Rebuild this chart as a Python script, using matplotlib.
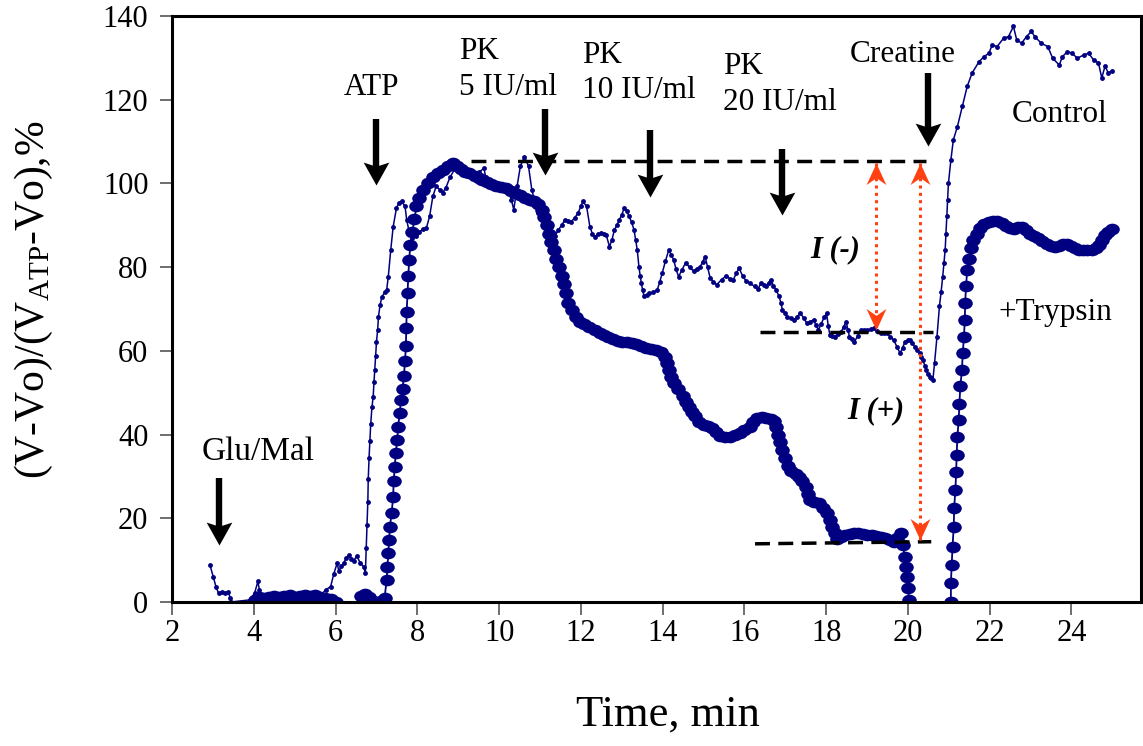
import matplotlib
matplotlib.use("Agg")
import matplotlib.pyplot as plt
from matplotlib.path import Path
from matplotlib.transforms import Affine2D

plt.rcParams['font.family'] = ['Liberation Serif', 'DejaVu Serif']
plt.rcParams['mathtext.fontset'] = 'custom'
plt.rcParams['mathtext.rm'] = 'Liberation Serif'
plt.rcParams['mathtext.it'] = 'Liberation Serif:italic'
plt.rcParams['mathtext.bf'] = 'Liberation Serif:bold'

# ---------------- data ----------------
control_t = [2.93, 3.01, 3.08, 3.14, 3.22, 3.30, 3.38, 3.42, 3.44,
             3.90, 4.02, 4.10, 4.14, 4.20, 4.40, 4.60, 4.80, 5.00, 5.20, 5.40, 5.60, 5.76, 5.88, 5.96,
             6.04, 6.08, 6.14, 6.20, 6.26, 6.32, 6.38, 6.44, 6.52, 6.60, 6.69, 6.73,
             6.75, 6.77, 6.79, 6.80, 6.82, 6.84, 6.86, 6.89, 6.92, 6.94, 6.96, 6.98, 7.00, 7.03, 7.05,
             7.09, 7.13, 7.20, 7.25, 7.29, 7.35, 7.41, 7.49, 7.55, 7.62, 7.70, 7.74, 7.80, 7.88, 7.96,
             8.05, 8.14, 8.22, 8.30, 8.38, 8.46, 8.55, 8.62, 8.70, 8.80, 8.95, 9.10, 9.27, 9.40, 9.52,
             9.63, 9.67, 9.80, 9.95, 10.10, 10.22, 10.30, 10.36, 10.44, 10.52, 10.62, 10.72, 10.80,
             10.88, 10.96, 11.05, 11.15, 11.22, 11.29, 11.37, 11.45, 11.53, 11.61, 11.69, 11.77, 11.85,
             11.93, 12.00, 12.05, 12.14, 12.22, 12.28, 12.34, 12.42, 12.50, 12.56, 12.62, 12.70, 12.76,
             12.82, 12.88, 12.94, 13.00, 13.06, 13.12, 13.18, 13.24, 13.30, 13.34, 13.38, 13.42, 13.45,
             13.48, 13.51, 13.55, 13.61, 13.67, 13.77, 13.87, 13.93, 13.99, 14.07, 14.15, 14.21, 14.27,
             14.33, 14.39, 14.47, 14.56, 14.66, 14.76, 14.84, 14.92, 14.98, 15.04, 15.10, 15.16, 15.24,
             15.32, 15.44, 15.56, 15.64, 15.73, 15.80, 15.87, 15.96, 16.05, 16.13, 16.25, 16.33, 16.41,
             16.48, 16.53, 16.59, 16.65, 16.71, 16.77, 16.85, 16.89, 16.93, 16.99, 17.05, 17.13, 17.21,
             17.29, 17.37, 17.45, 17.53, 17.61, 17.69, 17.75, 17.81, 17.88, 17.95, 18.01, 18.05, 18.09,
             18.15, 18.21, 18.29, 18.37, 18.43, 18.49, 18.53, 18.57, 18.63, 18.69, 18.77, 18.85, 18.93,
             19.01, 19.09, 19.17, 19.25, 19.33, 19.41, 19.49, 19.57, 19.65, 19.73, 19.81, 19.87, 19.93,
             19.99, 20.05, 20.11, 20.17, 20.23, 20.29, 20.33, 20.37, 20.41, 20.45, 20.49, 20.53, 20.57,
             20.61, 20.65, 20.71, 20.77, 20.81, 20.85, 20.88, 20.91, 20.93, 20.95, 20.97, 20.99, 21.05,
             21.11, 21.21, 21.33, 21.45, 21.57, 21.74, 21.86, 21.98, 22.06, 22.18, 22.34, 22.46, 22.58,
             22.66, 22.78, 22.90, 23.02, 23.10, 23.26, 23.42, 23.54, 23.70, 23.78, 23.90, 24.02, 24.14,
             24.30, 24.42, 24.54, 24.66, 24.74, 24.82, 24.90, 24.98]
control_v = [8.8, 6.0, 3.5, 2.1, 2.4, 2.2, 2.4, 1.0, 0.0,
             0.5, 2.1, 4.9, 2.8, 1.5, 1.5, 1.2, 1.6, 1.4, 1.7, 1.5, 1.3, 2.9, 3.7, 6.8,
             9.3, 7.4, 8.5, 9.3, 10.5, 11.2, 10.3, 9.8, 11.0, 9.4, 8.4, 7.0,
             13.0, 18.5, 24.0, 29.5, 34.5, 38.5, 42.5, 46.5, 49.0, 52.5, 55.5, 58.7, 62.0, 65.0, 68.2,
             71.0, 72.8, 74.0, 74.5, 77.7, 84.1, 89.7, 94.1, 95.4, 95.7, 94.5, 91.3, 88.5, 87.0, 87.5,
             88.5, 89.0, 89.3, 92.1, 96.9, 99.3, 98.5, 97.8, 99.0, 101.5, 104.0, 103.4, 102.5, 102.0, 102.8,
             103.6, 101.6, 100.4, 99.6, 99.0, 98.4, 96.1, 93.7, 99.3, 104.1, 106.4, 104.1, 98.5,
             95.5, 92.9, 91.5, 89.5, 88.0, 86.5, 87.5, 88.9, 90.0, 91.3, 91.0, 90.9, 91.8,
             92.9, 94.5, 95.7, 94.5, 89.7, 88.0, 87.3, 87.8, 88.1, 87.9, 87.7, 84.9, 86.5,
             88.9, 90.0, 91.3, 92.5, 94.1, 93.5, 92.1, 90.8, 88.9, 86.5, 84.1, 80.1, 78.0,
             76.2, 74.5, 73.0, 73.4, 73.8, 74.0, 74.6, 76.5, 78.6, 81.5, 84.1, 83.0, 81.7,
             79.5, 77.7, 79.3, 81.0, 80.0, 79.0, 79.6, 80.1, 81.3, 82.5, 80.0, 77.5, 76.5,
             75.8, 77.0, 78.0, 77.2, 77.0, 78.5, 79.8, 77.8, 76.6, 76.2, 75.4, 74.8, 76.2,
             75.7, 75.4, 76.2, 77.0, 75.5, 74.6, 73.0, 71.5, 69.8, 69.0, 68.2, 67.8, 67.4,
             68.2, 69.0, 67.8, 66.6, 67.0, 67.4, 66.2, 65.0, 66.5, 68.0, 69.0, 66.0, 63.8,
             63.6, 63.4, 64.0, 64.6, 65.8, 67.0, 65.0, 63.4, 62.8, 62.2, 63.5, 65.0, 65.0,
             65.0, 65.2, 65.4, 64.8, 64.2, 64.2, 64.2, 63.4, 62.6, 61.0, 59.4, 60.8, 62.2,
             62.5, 62.6, 61.8, 61.0, 60.2, 59.4, 58.6, 57.8, 56.5, 55.4, 54.5, 53.8, 53.4,
             53.1, 57.0, 63.4, 70.6, 74.0, 77.7, 81.0, 84.1, 88.0, 92.1, 96.0, 100.0, 105.6,
             110.4, 113.6, 118.4, 123.2, 126.4, 129.1, 130.3, 131.1, 133.1, 132.7, 134.7, 135.1, 137.5,
             134.3, 133.5, 135.1, 136.3, 135.1, 133.5, 132.7, 129.9, 128.3, 130.3, 131.5, 131.1, 129.9,
             130.7, 131.1, 129.5, 128.8, 125.2, 128.0, 126.4, 126.8]

trypsin_t = [4.02, 4.12, 4.25, 4.38, 4.50, 4.62, 4.75, 4.88, 5.00, 5.12, 5.25, 5.38, 5.50, 5.62, 5.75, 5.88, 6.00,
             6.10, 6.52, 6.62, 6.72, 6.82, 6.92, 7.12, 7.20,
             7.25, 7.27, 7.29, 7.31, 7.33, 7.37, 7.41, 7.42, 7.45, 7.47, 7.51, 7.53, 7.57, 7.60, 7.64, 7.67,
             7.70, 7.72, 7.73, 7.74, 7.76, 7.78, 7.80, 7.83, 7.88, 7.93, 7.98, 8.05, 8.14, 8.25, 8.38, 8.50,
             8.62, 8.75, 8.87, 8.97, 9.07, 9.17, 9.27, 9.40, 9.50, 9.59, 9.70, 9.80, 9.92, 10.04, 10.16,
             10.28, 10.40, 10.52, 10.64, 10.76, 10.86, 10.96, 11.04, 11.10, 11.16, 11.22, 11.28, 11.34,
             11.40, 11.47, 11.53, 11.58, 11.63, 11.69, 11.78, 11.88, 11.98, 12.08, 12.20, 12.34, 12.46,
             12.56, 12.66, 12.78, 12.90, 13.00, 13.12, 13.24, 13.36, 13.48, 13.60, 13.72, 13.84, 13.95,
             14.05, 14.10, 14.15, 14.21, 14.28, 14.38, 14.50, 14.58, 14.65, 14.72, 14.80, 14.90, 15.00,
             15.10, 15.20, 15.30, 15.40, 15.52, 15.64, 15.76, 15.89, 16.00, 16.13, 16.22, 16.30, 16.42,
             16.53, 16.64, 16.73, 16.78, 16.83, 16.88, 16.93, 16.99, 17.06, 17.15, 17.25, 17.34, 17.42,
             17.50, 17.55, 17.60, 17.70, 17.82, 17.93, 18.03, 18.09, 18.15, 18.21, 18.27, 18.37, 18.47,
             18.58, 18.69, 18.79, 18.90, 19.01, 19.12, 19.23, 19.34, 19.44, 19.55, 19.65, 19.74, 19.82,
             19.88, 19.92, 19.95, 19.97, 20.00, 20.03, 20.08,
             20.98, 21.05, 21.05, 21.07, 21.09, 21.12, 21.13, 21.16, 21.18, 21.19, 21.21, 21.24, 21.26, 21.28,
             21.32, 21.34, 21.37, 21.39, 21.40, 21.42, 21.45, 21.49, 21.54, 21.60, 21.68, 21.77, 21.87,
             21.98, 22.09, 22.19, 22.29, 22.39, 22.49, 22.59, 22.69, 22.79, 22.89, 22.99, 23.09, 23.19,
             23.29, 23.39, 23.49, 23.59, 23.69, 23.79, 23.89, 23.99, 24.09, 24.19, 24.29, 24.39, 24.49,
             24.59, 24.67, 24.74, 24.82, 24.90, 24.98]
trypsin_v = [0.5, 1.2, 1.0, 1.3, 1.5, 1.2, 1.4, 1.6, 1.3, 1.5, 1.7, 1.4, 1.6, 1.3, 1.0, 0.6, 0.1,
             -3.0, -3.0, 1.5, 1.8, 1.2, 0.2, 0.2, 1.0,
             5.3, 8.4, 11.6, 14.8, 18.0, 21.2, 25.2, 28.8, 32.3, 35.5, 38.7, 41.9, 45.1, 48.3, 51.0, 54.0,
             57.5, 61.2, 65.4, 69.4, 73.8, 77.9, 81.7, 85.3, 88.5, 91.5, 94.5, 96.5, 98.5, 100.2, 101.5, 102.4,
             103.2, 104.2, 104.8, 104.2, 103.4, 102.8, 102.4, 101.8, 101.3, 100.9, 100.3, 99.8, 99.4, 99.1, 98.8,
             98.3, 97.7, 97.2, 96.6, 96.1, 95.7, 95.0, 93.6, 92.0, 90.0, 88.0, 86.0, 84.0,
             82.0, 80.0, 78.0, 76.0, 73.8, 71.5, 69.8, 68.2, 67.0, 66.3, 65.7, 65.0, 64.3,
             63.7, 63.3, 62.8, 62.4, 62.2, 62.0, 61.8, 61.6, 61.2, 60.7, 60.5, 60.2, 59.8,
             58.6, 57.0, 55.4, 53.8, 52.3, 50.8, 49.2, 47.8, 46.5, 45.5, 44.5, 43.0, 42.3,
             42.0, 41.6, 40.5, 39.6, 39.4, 39.5, 39.8, 40.3, 41.0, 41.9, 43.0, 43.9, 44.1,
             43.9, 43.8, 43.3, 41.8, 40.0, 38.2, 36.3, 34.5, 32.6, 31.3, 30.5, 29.9, 28.8,
             27.5, 25.8, 24.4, 24.0, 23.6, 22.5, 21.2, 19.6, 18.0, 16.4, 15.0, 15.5, 16.0,
             16.3, 16.4, 16.4, 16.2, 16.0, 16.0, 15.8, 15.6, 15.4, 14.9, 14.4, 15.4, 16.4,
             13.5, 10.8, 8.4, 6.0, 3.3, 0.5, -3.0,
             -3.0, 0.1, 4.5, 8.8, 13.2, 18.0, 22.4, 26.8, 31.1, 35.1, 39.4, 43.5, 47.3, 51.5,
             55.4, 59.4, 63.4, 67.4, 71.4, 75.4, 79.3, 82.0, 84.5, 86.5, 88.0, 89.3, 90.2,
             90.8, 91.1, 91.1, 90.6, 89.9, 89.4, 89.2, 89.5, 89.6, 88.9, 88.0, 87.5, 87.0,
             86.3, 85.6, 85.0, 84.8, 85.1, 85.5, 85.5, 85.0, 84.5, 84.1, 84.0, 84.1, 84.2,
             84.6, 85.3, 86.5, 87.6, 88.4, 89.0]

x_ticks = [2, 4, 6, 8, 10, 12, 14, 16, 18, 20, 22, 24]
y_ticks = [0, 20, 40, 60, 80, 100, 120, 140]

# event arrows: (x, y_top, y_tip)
event_x = [3.14, 6.98, 11.13, 13.69, 16.91, 20.50]
event_top = [29.6, 115.4, 117.8, 112.8, 108.3, 126.4]
event_tip = [13.6, 99.7, 102.1, 96.8, 92.5, 109.0]

# reference levels (dashed)
level_x0 = [9.31, 16.38, 16.26]
level_x1 = [20.45, 20.62, 20.57]
level_y0 = [105.4, 64.4, 13.9]
level_y1 = [105.4, 64.4, 14.4]

# inhibition double arrows: (x, y_top, y_bottom)
inh_x = [19.21, 20.30]
inh_top = [104.9, 104.9]
inh_bot = [65.0, 14.8]

NAVY = '#000080'
RED = '#FF4010'

# ---------------- figure ----------------
fig = plt.figure(figsize=(11.43, 7.46), dpi=100)
ax = fig.add_axes([172/1143, (746-602)/746, (1141-172)/1143, (602-16)/746])

ell = Path.unit_circle().transformed(Affine2D().scale(1.0, 0.8))

ax.plot(trypsin_t, trypsin_v, color=NAVY, lw=1.3, marker=ell, ms=10.5,
        mew=0, mfc=NAVY, zorder=3)
ax.plot(control_t, control_v, color=NAVY, lw=1.1, marker='o', ms=3.5,
        mew=0, mfc=NAVY, zorder=4)

ax.set_xlim(2, 25.7)
ax.set_ylim(0, 140)
ax.set_xticks(x_ticks)
ax.set_yticks(y_ticks)
ax.tick_params(axis='both', direction='out', length=9, width=1.2, color='#555555',
               labelsize=22)
ax.tick_params(axis='y', pad=8)
ax.tick_params(axis='x', pad=3)
for s in ax.spines.values():
    s.set_linewidth(2.2)
    s.set_color('black')
    s.set_zorder(5)

ax.set_xlabel('Time, min', fontsize=32)
ax.xaxis.label.set_va('center')
ax.xaxis.set_label_coords((668-172)/969, (602-715)/586)
ax.set_ylabel(r'(V-Vo)/(V$_{\mathrm{ATP}}$-Vo),%', fontsize=30)
ax.yaxis.label.set(va='center', ha='center', rotation_mode='default')
ax.yaxis.set_label_coords((34-172)/969, (602-300)/586)

# dashed reference lines
for x0, x1, y0, y1 in zip(level_x0, level_x1, level_y0, level_y1):
    ax.plot([x0, x1], [y0, y1], color='black', lw=2.5, dashes=(4.3, 2.4),
            solid_capstyle='butt', dash_capstyle='butt', zorder=6)

# black event arrows
head_black = Path([(0, 0), (-0.56, 1), (0, 0.82), (0.56, 1), (0, 0)],
                  [Path.MOVETO, Path.LINETO, Path.LINETO, Path.LINETO, Path.CLOSEPOLY])
for x, yt, yp in zip(event_x, event_top, event_tip):
    ax.plot([x, x], [yt, yp + 4.0], color='black', lw=4.6, solid_capstyle='butt', zorder=7)
    ax.plot([x], [yp], marker=head_black, ms=33, color='black', mew=0, zorder=7)

# red dotted double arrows
head_red_dn = Path([(0, 0), (-0.46, 1), (0, 0.68), (0.46, 1), (0, 0)],
                   [Path.MOVETO, Path.LINETO, Path.LINETO, Path.LINETO, Path.CLOSEPOLY])
head_red_up = head_red_dn.transformed(Affine2D().scale(1, -1))
for x, yt, yb in zip(inh_x, inh_top, inh_bot):
    ax.plot([x, x], [yt, yb], color=RED, lw=2.2, linestyle=(0, (1, 1.4)), zorder=8)
    ax.plot([x], [yt], marker=head_red_up, ms=31, color=RED, mew=0, zorder=8)
    ax.plot([x], [yb], marker=head_red_dn, ms=31, color=RED, mew=0, zorder=8)

# labels
fs = 22.5
ax.text(4.10, 35.9, 'Glu/Mal', fontsize=24, ha='center', va='center')
ax.text(6.89, 122.8, 'ATP', fontsize=fs, ha='center', va='center')
ax.text(9.02, 127.2, 'PK\n5 IU/ml', fontsize=fs, ha='left', va='center', linespacing=1.3)
ax.text(12.02, 126.4, 'PK\n10 IU/ml', fontsize=fs, ha='left', va='center', linespacing=1.3)
ax.text(15.48, 123.6, 'PK\n20 IU/ml', fontsize=fs, ha='left', va='center', linespacing=1.3)
ax.text(19.87, 130.7, 'Creatine', fontsize=fs, ha='center', va='center')
ax.text(23.72, 116.4, 'Control', fontsize=fs, ha='center', va='center')
ax.text(23.60, 69.1, '+Trypsin', fontsize=fs, ha='center', va='center')
ax.text(18.22, 84.1, 'I (-)', fontsize=22, ha='center', va='center',
        fontweight='bold', fontstyle='italic')
ax.text(19.21, 45.7, 'I (+)', fontsize=22, ha='center', va='center',
        fontweight='bold', fontstyle='italic')

fig.savefig('out.png', dpi=100)
